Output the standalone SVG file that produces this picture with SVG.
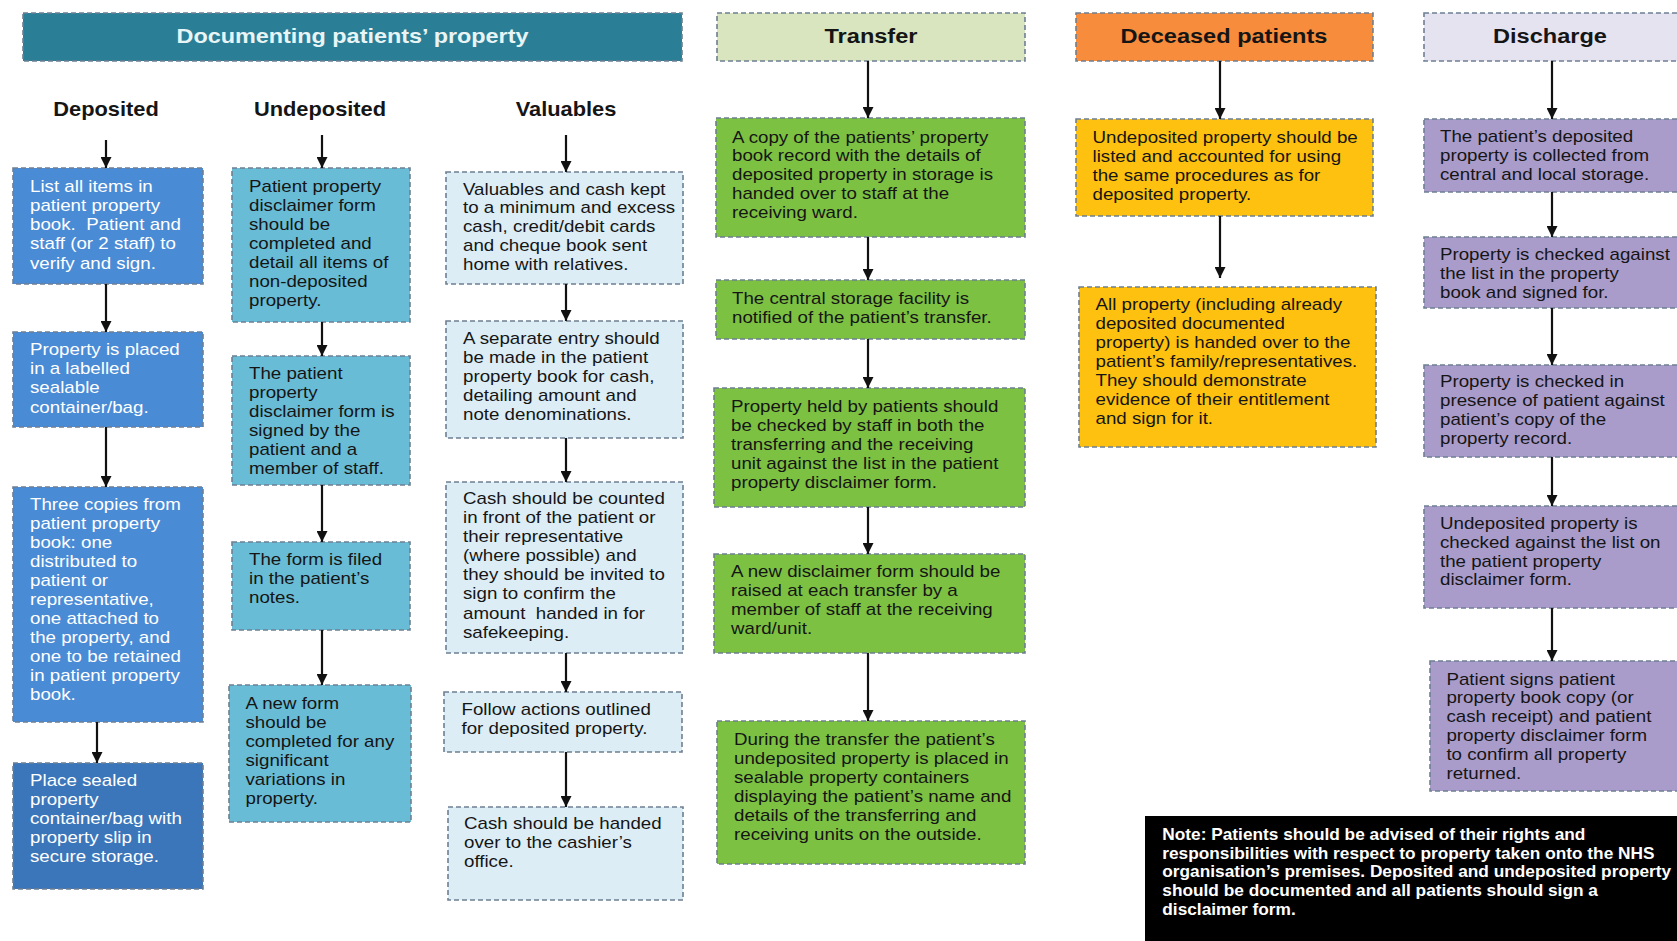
<svg xmlns="http://www.w3.org/2000/svg" width="1677" height="941" viewBox="0 0 1677 941">
<defs>
<marker id="ah" viewBox="0 0 10 10" refX="10" refY="5" markerWidth="11" markerHeight="11" markerUnits="userSpaceOnUse" orient="auto">
<path d="M0,0 L10,5 L0,10 z" fill="#111"/>
</marker>
<style>
.bx{stroke:#6d7f92;stroke-width:1.6;stroke-dasharray:5 3}
.t{font-family:"Liberation Sans",Arial,sans-serif;font-size:16px}
.w{fill:#ffffff}
.k{fill:#151515}
.hd{font-family:"Liberation Sans",Arial,sans-serif;font-weight:bold;text-anchor:middle}
.note{font-family:"Liberation Sans",Arial,sans-serif;font-size:16px;font-weight:bold;fill:#ffffff}
.dep{fill:#4a8bd6}
.dep2{fill:#3c76ba}
.und{fill:#69bcd5}
.val{fill:#dcedf5}
.tr{fill:#7dc143}
.dec{fill:#fec10f}
.dis{fill:#a99ccb}
.ar{stroke:#111;stroke-width:2.2;fill:none;marker-end:url(#ah)}
</style>
</defs>
<rect width="1677" height="941" fill="#ffffff"/>

<g id="title">
<rect x="23" y="13" width="659" height="48" fill="#2a7f96" class="bx"/>
<text class="hd" font-size="19.5" fill="#e8f4f5" transform="translate(352.5,43.3) scale(1.2,1)">Documenting patients’ property</text>
</g>
<g id="hdr-deposited"><text class="hd k" font-size="19.5" transform="translate(106,115.7) scale(1.12,1)">Deposited</text></g>
<g id="hdr-undeposited"><text class="hd k" font-size="19.5" transform="translate(320,115.7) scale(1.12,1)">Undeposited</text></g>
<g id="hdr-valuables"><text class="hd k" font-size="19.5" transform="translate(566,115.7) scale(1.12,1)">Valuables</text></g>

<g id="hdr-transfer">
<rect x="717" y="13" width="308" height="48" fill="#d9e5bf" class="bx"/>
<text class="hd k" font-size="20.5" transform="translate(871,43.3) scale(1.15,1)">Transfer</text>
</g>
<g id="hdr-deceased">
<rect x="1076" y="13" width="297" height="48" fill="#f68c3c" class="bx"/>
<text class="hd k" font-size="20.5" transform="translate(1224,43.3) scale(1.15,1)">Deceased patients</text>
</g>
<g id="hdr-discharge">
<rect x="1424" y="13" width="262" height="48" fill="#e6e3f0" class="bx"/>
<text class="hd k" font-size="20.5" transform="translate(1550,43.3) scale(1.15,1)">Discharge</text>
</g>

<!-- Deposited column -->
<g id="dep1">
<rect x="13" y="168" width="190" height="116" class="bx dep"/>
<text class="t w" transform="translate(30,191.5) scale(1.17,1)"><tspan x="0">List all items in</tspan><tspan x="0" dy="19.3">patient property</tspan><tspan x="0" dy="19.3">book.&#160; Patient and</tspan><tspan x="0" dy="19.3">staff (or 2 staff) to</tspan><tspan x="0" dy="19.3">verify and sign.</tspan></text>
</g>
<g id="dep2">
<rect x="13" y="332" width="190" height="95" class="bx dep"/>
<text class="t w" transform="translate(30,355) scale(1.17,1)"><tspan x="0">Property is placed</tspan><tspan x="0" dy="19.2">in a labelled</tspan><tspan x="0" dy="19.2">sealable</tspan><tspan x="0" dy="19.2">container/bag.</tspan></text>
</g>
<g id="dep3">
<rect x="13" y="487" width="190" height="235" class="bx dep"/>
<text class="t w" transform="translate(30,510.2) scale(1.17,1)"><tspan x="0">Three copies from</tspan><tspan x="0" dy="19.03">patient property</tspan><tspan x="0" dy="19.03">book: one</tspan><tspan x="0" dy="19.03">distributed to</tspan><tspan x="0" dy="19.03">patient or</tspan><tspan x="0" dy="19.03">representative,</tspan><tspan x="0" dy="19.03">one attached to</tspan><tspan x="0" dy="19.03">the property, and</tspan><tspan x="0" dy="19.03">one to be retained</tspan><tspan x="0" dy="19.03">in patient property</tspan><tspan x="0" dy="19.03">book.</tspan></text>
</g>
<g id="dep4">
<rect x="13" y="763" width="190" height="126" class="bx dep2"/>
<text class="t w" transform="translate(30,786.2) scale(1.17,1)"><tspan x="0">Place sealed</tspan><tspan x="0" dy="19">property</tspan><tspan x="0" dy="19">container/bag with</tspan><tspan x="0" dy="19">property slip in</tspan><tspan x="0" dy="19">secure storage.</tspan></text>
</g>

<!-- Undeposited column -->
<g id="und1">
<rect x="232" y="168" width="178" height="154" class="bx und"/>
<text class="t k" transform="translate(249,192.2) scale(1.17,1)"><tspan x="0">Patient property</tspan><tspan x="0" dy="19">disclaimer form</tspan><tspan x="0" dy="19">should be</tspan><tspan x="0" dy="19">completed and</tspan><tspan x="0" dy="19">detail all items of</tspan><tspan x="0" dy="19">non-deposited</tspan><tspan x="0" dy="19">property.</tspan></text>
</g>
<g id="und2">
<rect x="232" y="356" width="178" height="129" class="bx und"/>
<text class="t k" transform="translate(249,378.5) scale(1.17,1)"><tspan x="0">The patient</tspan><tspan x="0" dy="19.2">property</tspan><tspan x="0" dy="19.2">disclaimer form is</tspan><tspan x="0" dy="19.2">signed by the</tspan><tspan x="0" dy="19.2">patient and a</tspan><tspan x="0" dy="19.2">member of staff.</tspan></text>
</g>
<g id="und3">
<rect x="232" y="542" width="178" height="88" class="bx und"/>
<text class="t k" transform="translate(249,564.5) scale(1.17,1)"><tspan x="0">The form is filed</tspan><tspan x="0" dy="19.2">in the patient’s</tspan><tspan x="0" dy="19.2">notes.</tspan></text>
</g>
<g id="und4">
<rect x="229" y="685" width="182" height="137" class="bx und"/>
<text class="t k" transform="translate(245.5,708.5) scale(1.17,1)"><tspan x="0">A new form</tspan><tspan x="0" dy="19.06">should be</tspan><tspan x="0" dy="19.06">completed for any</tspan><tspan x="0" dy="19.06">significant</tspan><tspan x="0" dy="19.06">variations in</tspan><tspan x="0" dy="19.06">property.</tspan></text>
</g>

<!-- Valuables column -->
<g id="val1">
<rect x="446" y="172" width="237" height="112" class="bx val"/>
<text class="t k" transform="translate(463,194.5) scale(1.17,1)"><tspan x="0">Valuables and cash kept</tspan><tspan x="0" dy="19">to a minimum and excess</tspan><tspan x="0" dy="19">cash, credit/debit cards</tspan><tspan x="0" dy="19">and cheque book sent</tspan><tspan x="0" dy="19">home with relatives.</tspan></text>
</g>
<g id="val2">
<rect x="446" y="321" width="237" height="117" class="bx val"/>
<text class="t k" transform="translate(463,343.8) scale(1.17,1)"><tspan x="0">A separate entry should</tspan><tspan x="0" dy="19.1">be made in the patient</tspan><tspan x="0" dy="19.1">property book for cash,</tspan><tspan x="0" dy="19.1">detailing amount and</tspan><tspan x="0" dy="19.1">note denominations.</tspan></text>
</g>
<g id="val3">
<rect x="446" y="482" width="237" height="171" class="bx val"/>
<text class="t k" transform="translate(463,503.8) scale(1.17,1)"><tspan x="0">Cash should be counted</tspan><tspan x="0" dy="19.14">in front of the patient or</tspan><tspan x="0" dy="19.14">their representative</tspan><tspan x="0" dy="19.14">(where possible) and</tspan><tspan x="0" dy="19.14">they should be invited to</tspan><tspan x="0" dy="19.14">sign to confirm the</tspan><tspan x="0" dy="19.14">amount&#160; handed in for</tspan><tspan x="0" dy="19.14">safekeeping.</tspan></text>
</g>
<g id="val4">
<rect x="444" y="692" width="238" height="60" class="bx val"/>
<text class="t k" transform="translate(461.5,715.2) scale(1.17,1)"><tspan x="0">Follow actions outlined</tspan><tspan x="0" dy="19.3">for deposited property.</tspan></text>
</g>
<g id="val5">
<rect x="448" y="807" width="235" height="93" class="bx val"/>
<text class="t k" transform="translate(464,828.5) scale(1.17,1)"><tspan x="0">Cash should be handed</tspan><tspan x="0" dy="19.3">over to the cashier’s</tspan><tspan x="0" dy="19.3">office.</tspan></text>
</g>

<!-- Transfer column -->
<g id="tr1">
<rect x="716" y="118" width="309" height="119" class="bx tr"/>
<text class="t k" transform="translate(732,142.5) scale(1.17,1)"><tspan x="0">A copy of the patients’ property</tspan><tspan x="0" dy="18.85">book record with the details of</tspan><tspan x="0" dy="18.85">deposited property in storage is</tspan><tspan x="0" dy="18.85">handed over to staff at the</tspan><tspan x="0" dy="18.85">receiving ward.</tspan></text>
</g>
<g id="tr2">
<rect x="716" y="280" width="309" height="59" class="bx tr"/>
<text class="t k" transform="translate(732,303.5) scale(1.17,1)"><tspan x="0">The central storage facility is</tspan><tspan x="0" dy="19.3">notified of the patient’s transfer.</tspan></text>
</g>
<g id="tr3">
<rect x="714" y="388" width="311" height="119" class="bx tr"/>
<text class="t k" transform="translate(731,411.8) scale(1.17,1)"><tspan x="0">Property held by patients should</tspan><tspan x="0" dy="19">be checked by staff in both the</tspan><tspan x="0" dy="19">transferring and the receiving</tspan><tspan x="0" dy="19">unit against the list in the patient</tspan><tspan x="0" dy="19">property disclaimer form.</tspan></text>
</g>
<g id="tr4">
<rect x="714" y="554" width="311" height="99" class="bx tr"/>
<text class="t k" transform="translate(731,577.2) scale(1.17,1)"><tspan x="0">A new disclaimer form should be</tspan><tspan x="0" dy="19.1">raised at each transfer by a</tspan><tspan x="0" dy="19.1">member of staff at the receiving</tspan><tspan x="0" dy="19.1">ward/unit.</tspan></text>
</g>
<g id="tr5">
<rect x="717" y="721" width="308" height="143" class="bx tr"/>
<text class="t k" transform="translate(734,745.2) scale(1.17,1)"><tspan x="0">During the transfer the patient’s</tspan><tspan x="0" dy="19">undeposited property is placed in</tspan><tspan x="0" dy="19">sealable property containers</tspan><tspan x="0" dy="19">displaying the patient’s name and</tspan><tspan x="0" dy="19">details of the transferring and</tspan><tspan x="0" dy="19">receiving units on the outside.</tspan></text>
</g>

<!-- Deceased column -->
<g id="dec1">
<rect x="1076" y="119" width="297" height="97" class="bx dec"/>
<text class="t k" transform="translate(1092.5,142.8) scale(1.17,1)"><tspan x="0">Undeposited property should be</tspan><tspan x="0" dy="19.2">listed and accounted for using</tspan><tspan x="0" dy="19.2">the same procedures as for</tspan><tspan x="0" dy="19.2">deposited property.</tspan></text>
</g>
<g id="dec2">
<rect x="1079" y="287" width="297" height="160" class="bx dec"/>
<text class="t k" transform="translate(1095.5,309.5) scale(1.17,1)"><tspan x="0">All property (including already</tspan><tspan x="0" dy="19.05">deposited documented</tspan><tspan x="0" dy="19.05">property) is handed over to the</tspan><tspan x="0" dy="19.05">patient’s family/representatives.</tspan><tspan x="0" dy="19.05">They should demonstrate</tspan><tspan x="0" dy="19.05">evidence of their entitlement</tspan><tspan x="0" dy="19.05">and sign for it.</tspan></text>
</g>

<!-- Discharge column -->
<g id="dis1">
<rect x="1424" y="119" width="262" height="73" class="bx dis"/>
<text class="t k" transform="translate(1440,141.8) scale(1.17,1)"><tspan x="0">The patient’s deposited</tspan><tspan x="0" dy="19.2">property is collected from</tspan><tspan x="0" dy="19.2">central and local storage.</tspan></text>
</g>
<g id="dis2">
<rect x="1424" y="237" width="262" height="71" class="bx dis"/>
<text class="t k" transform="translate(1440,260.2) scale(1.17,1)"><tspan x="0">Property is checked against</tspan><tspan x="0" dy="18.8">the list in the property</tspan><tspan x="0" dy="18.8">book and signed for.</tspan></text>
</g>
<g id="dis3">
<rect x="1424" y="365" width="262" height="92" class="bx dis"/>
<text class="t k" transform="translate(1440,387.2) scale(1.17,1)"><tspan x="0">Property is checked in</tspan><tspan x="0" dy="19.1">presence of patient against</tspan><tspan x="0" dy="19.1">patient’s copy of the</tspan><tspan x="0" dy="19.1">property record.</tspan></text>
</g>
<g id="dis4">
<rect x="1424" y="506" width="262" height="102" class="bx dis"/>
<text class="t k" transform="translate(1440,528.8) scale(1.17,1)"><tspan x="0">Undeposited property is</tspan><tspan x="0" dy="18.9">checked against the list on</tspan><tspan x="0" dy="18.9">the patient property</tspan><tspan x="0" dy="18.9">disclaimer form.</tspan></text>
</g>
<g id="dis5">
<rect x="1430" y="661" width="256" height="130" class="bx dis"/>
<text class="t k" transform="translate(1446.4,684.5) scale(1.17,1)"><tspan x="0">Patient signs patient</tspan><tspan x="0" dy="19">property book copy (or</tspan><tspan x="0" dy="19">cash receipt) and patient</tspan><tspan x="0" dy="19">property disclaimer form</tspan><tspan x="0" dy="19">to confirm all property</tspan><tspan x="0" dy="19">returned.</tspan></text>
</g>

<g id="note">
<rect x="1145" y="816" width="540" height="130" fill="#000000"/>
<text class="note" transform="translate(1162.3,840) scale(1.08,1)"><tspan x="0">Note: Patients should be advised of their rights and</tspan><tspan x="0" dy="18.75">responsibilities with respect to property taken onto the NHS</tspan><tspan x="0" dy="18.75">organisation’s premises. Deposited and undeposited property</tspan><tspan x="0" dy="18.75">should be documented and all patients should sign a</tspan><tspan x="0" dy="18.75">disclaimer form.</tspan></text>
</g>

<g id="connectors">
<line class="ar" x1="106" y1="140" x2="106" y2="168"/>
<line class="ar" x1="106" y1="284" x2="106" y2="332"/>
<line class="ar" x1="106" y1="427" x2="106" y2="487"/>
<line class="ar" x1="97" y1="722" x2="97" y2="763"/>
<line class="ar" x1="322" y1="135" x2="322" y2="168"/>
<line class="ar" x1="322" y1="322" x2="322" y2="356"/>
<line class="ar" x1="322" y1="485" x2="322" y2="542"/>
<line class="ar" x1="322" y1="630" x2="322" y2="685"/>
<line class="ar" x1="566" y1="135" x2="566" y2="172"/>
<line class="ar" x1="566" y1="284" x2="566" y2="321"/>
<line class="ar" x1="566" y1="438" x2="566" y2="482"/>
<line class="ar" x1="566" y1="653" x2="566" y2="692"/>
<line class="ar" x1="566" y1="752" x2="566" y2="807"/>
<line class="ar" x1="868" y1="61" x2="868" y2="118"/>
<line class="ar" x1="868" y1="237" x2="868" y2="280"/>
<line class="ar" x1="868" y1="339" x2="868" y2="388"/>
<line class="ar" x1="868" y1="507" x2="868" y2="554"/>
<line class="ar" x1="868" y1="653" x2="868" y2="721"/>
<line class="ar" x1="1220" y1="61" x2="1220" y2="119"/>
<line class="ar" x1="1220" y1="216" x2="1220" y2="278"/>
<line class="ar" x1="1552" y1="61" x2="1552" y2="119"/>
<line class="ar" x1="1552" y1="192" x2="1552" y2="237"/>
<line class="ar" x1="1552" y1="308" x2="1552" y2="365"/>
<line class="ar" x1="1552" y1="457" x2="1552" y2="506"/>
<line class="ar" x1="1552" y1="608" x2="1552" y2="661"/>
</g>
</svg>
